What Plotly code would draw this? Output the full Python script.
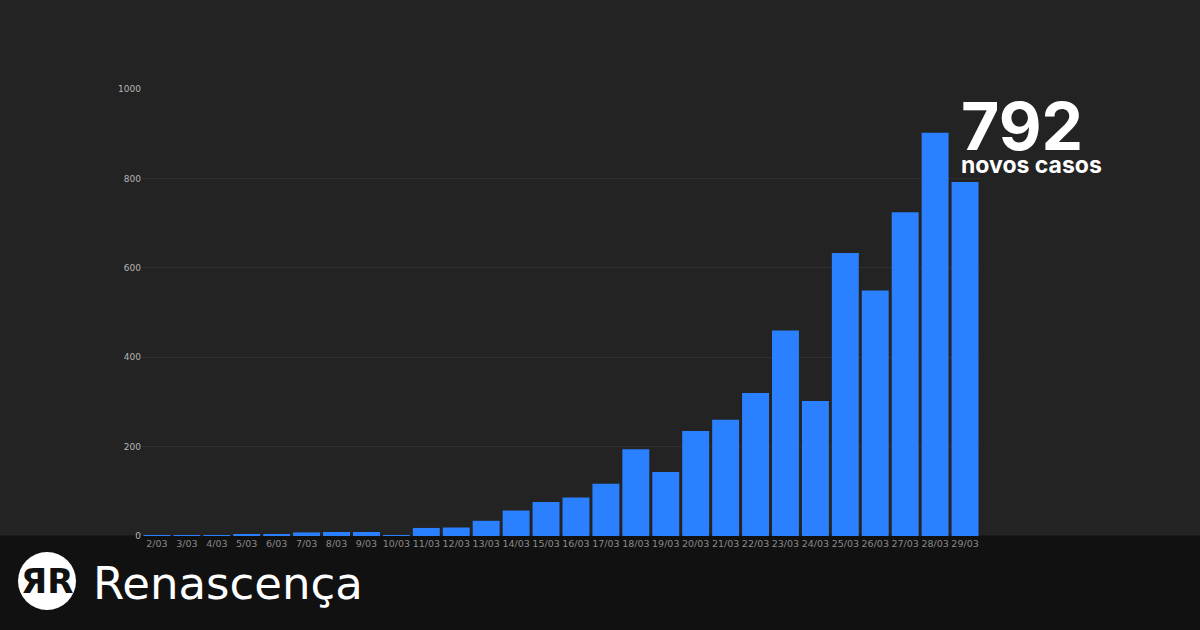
import plotly.graph_objects as go

dates = ["2/03", "3/03", "4/03", "5/03", "6/03", "7/03", "8/03", "9/03", "10/03",
         "11/03", "12/03", "13/03", "14/03", "15/03", "16/03", "17/03", "18/03",
         "19/03", "20/03", "21/03", "22/03", "23/03", "24/03", "25/03", "26/03",
         "27/03", "28/03", "29/03"]
new_cases = [2, 2, 1, 4, 4, 8, 9, 9, 2, 18, 19, 34, 57, 76, 86, 117, 194, 143,
             235, 260, 320, 460, 302, 633, 549, 724, 902, 792]
y_ticks = [0, 200, 400, 600, 800, 1000]
headline_value = "792"
headline_label = "novos casos"
brand = "Renascença"

W, H = 1200, 630
L, R, T, B = 142, 980, 89, 536


def px(x):
    return (x - L) / (R - L)


def py(y):
    return (B - y) / (B - T)


fig = go.Figure(go.Bar(
    x=dates, y=new_cases,
    marker=dict(color="#2a80ff", line=dict(width=0)),
    hoverinfo="skip",
))

shapes = [
    # dark bottom band
    dict(type="rect", xref="paper", yref="paper", layer="below",
         x0=px(0), x1=px(W), y0=py(H), y1=py(535.5),
         fillcolor="#111111", line=dict(width=0)),
    # logo circle
    dict(type="circle", xref="paper", yref="paper", layer="above",
         x0=px(18), x1=px(76), y0=py(610), y1=py(552),
         fillcolor="#ffffff", line=dict(width=0)),
]

annotations = [
    dict(text=f"<b>{headline_value}</b>", xref="paper", yref="paper",
         x=px(959), y=py(84), xanchor="left", yanchor="top", showarrow=False,
         font=dict(family="Inter", size=66, color="#ffffff")),
    dict(text=f"<b>{headline_label}</b>", xref="paper", yref="paper",
         x=px(959), y=py(149), xanchor="left", yanchor="top", showarrow=False,
         font=dict(family="Inter", size=23, color="#ffffff")),
    dict(text="<b>ЯR</b>", xref="paper", yref="paper",
         x=px(47), y=py(581), xanchor="center", yanchor="middle", showarrow=False,
         font=dict(family="DejaVu Sans", size=34, color="#111111")),
    dict(text=brand, xref="paper", yref="paper",
         x=px(91), y=py(583), xanchor="left", yanchor="middle", showarrow=False,
         font=dict(family="DejaVu Sans", size=45, color="#ffffff")),
]

fig.update_layout(
    width=W, height=H,
    margin=dict(l=L, r=W - R, t=T, b=H - B, pad=0),
    paper_bgcolor="#232323", plot_bgcolor="#232323",
    bargap=0.1,
    showlegend=False,
    shapes=shapes,
    annotations=annotations,
    xaxis=dict(
        showgrid=False, showline=False, zeroline=False,
        tickangle=0,
        tickfont=dict(family="DejaVu Sans", size=9.5, color="#8a8a8a"),
        ticks="", ticklen=0,
    ),
    yaxis=dict(
        range=[0, 1000], tickvals=y_ticks,
        showgrid=True, gridcolor="#303030", gridwidth=1,
        zeroline=False, showline=False,
        tickfont=dict(family="DejaVu Sans", size=9, color="#b5b5b5"),
        ticks="", ticklen=0,
    ),
)

fig.write_html("out.html", config={"displayModeBar": False},
               post_script="document.body.style.margin='0';")
